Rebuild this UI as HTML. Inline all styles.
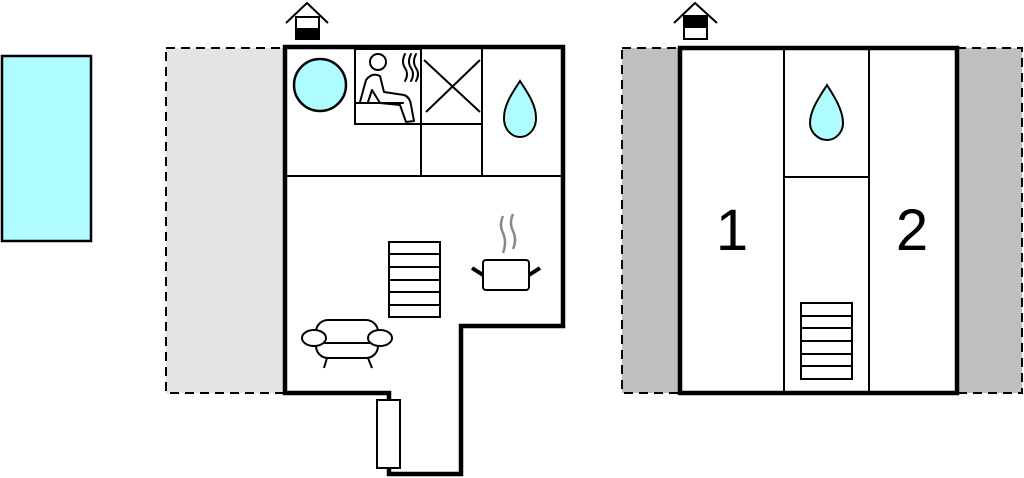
<!DOCTYPE html>
<html><head><style>html,body{margin:0;padding:0;background:#fff;}svg{display:block;}</style></head>
<body>
<svg width="1024" height="478" viewBox="0 0 1024 478" xmlns="http://www.w3.org/2000/svg">
<rect x="2" y="56" width="89" height="185" fill="#aefcff" stroke="#000" stroke-width="2.5"/>
<rect x="166" y="48" width="119" height="345" fill="#e4e4e4" stroke="#000" stroke-width="2" stroke-dasharray="9,6"/>
<rect x="622" y="48" width="58" height="345" fill="#bfbfbf" stroke="#000" stroke-width="2" stroke-dasharray="9,6"/>
<rect x="957" y="48" width="65" height="345" fill="#bfbfbf" stroke="#000" stroke-width="2" stroke-dasharray="9,6"/>

<path d="M285 47 H563 V326 H461 V474 H389 V393 H285 Z" fill="#fff" stroke="#000" stroke-width="4.5"/>
<g stroke="#000" stroke-width="2" fill="none">
<line x1="287" y1="176" x2="561" y2="176"/>
<line x1="421" y1="49" x2="421" y2="176"/>
<line x1="482" y1="49" x2="482" y2="176"/>
<rect x="355" y="49" width="66" height="75"/>
<line x1="421" y1="124" x2="482" y2="124"/>
<line x1="424" y1="60" x2="480" y2="112"/>
<line x1="426" y1="112" x2="480" y2="60"/>
</g>
<circle cx="320" cy="85" r="26" fill="#aefcff" stroke="#000" stroke-width="2.5"/>
<g stroke="#000" stroke-width="2" fill="none" stroke-linecap="round" stroke-linejoin="round">
<circle cx="378" cy="62" r="8"/>
<path d="M360 102 L366 80 Q372 72 380 76 L384 92 L404 95 Q410 97 411 105 L414 121 L406 122 L400 105 L380 103 L372 90 L368 102"/>
<line x1="355" y1="103" x2="403" y2="103"/>
<path d="M405 54 q-4 8 0 14 q4 6 0 13"/>
<path d="M411 54 q-4 8 0 14 q4 6 0 13"/>
<path d="M416 54 q-4 8 0 14 q4 6 0 13"/>
</g>
<path d="M520 81 C513 92 504 104 504 118 C504 130 512 137 520 137 C528 137 536 130 536 118 C536 104 527 92 520 81 Z" fill="#aefcff" stroke="#000" stroke-width="2"/>
<g stroke="#000" stroke-width="2" fill="#fff">
<rect x="389" y="242" width="51" height="75"/>
<line x1="389" y1="254" x2="440" y2="254"/><line x1="389" y1="267" x2="440" y2="267"/>
<line x1="389" y1="280" x2="440" y2="280"/><line x1="389" y1="292" x2="440" y2="292"/>
<line x1="389" y1="305" x2="440" y2="305"/>
</g>
<rect x="483" y="260" width="46" height="30" rx="3" fill="#fff" stroke="#000" stroke-width="2"/>
<g stroke="#000" stroke-width="4"><line x1="472" y1="268" x2="483" y2="275"/><line x1="540" y1="268" x2="529" y2="275"/></g>
<g stroke="#888" stroke-width="2.5" fill="none"><path d="M503 216 q-4 9 0 17 q4 9 0 20"/><path d="M513 214 q-4 9 0 17 q4 9 0 18"/></g>
<g stroke="#000" stroke-width="2" fill="#fff">
<rect x="316" y="320" width="62" height="38" rx="12"/>
<ellipse cx="314" cy="338" rx="12" ry="8"/>
<ellipse cx="380" cy="338" rx="12" ry="8"/>
<line x1="324" y1="343" x2="370" y2="343"/>
<line x1="327" y1="358" x2="324" y2="368"/><line x1="368" y1="358" x2="372" y2="368"/>
</g>
<rect x="377" y="400" width="23" height="68" fill="#fff" stroke="#000" stroke-width="2"/>
<g stroke="#000" stroke-width="2" fill="none"><path d="M286 23 L307 3 L328 23"/></g>
<rect x="296" y="17" width="23" height="22" fill="#fff" stroke="#000" stroke-width="2"/>
<rect x="296" y="28" width="23" height="11" fill="#000"/>

<rect x="680" y="48" width="277" height="345" fill="#fff" stroke="#000" stroke-width="4.5"/>
<g stroke="#000" stroke-width="2">
<line x1="784" y1="50" x2="784" y2="391"/>
<line x1="869" y1="50" x2="869" y2="391"/>
<line x1="784" y1="177" x2="869" y2="177"/>
</g>
<path d="M827 85 C820 96 810 110 810 123 C810 132 818 140 827 140 C836 140 843 132 843 123 C843 110 834 96 827 85 Z" fill="#aefcff" stroke="#000" stroke-width="2"/>
<g stroke="#000" stroke-width="2" fill="#fff">
<rect x="801" y="303" width="51" height="76"/>
<line x1="801" y1="316" x2="852" y2="316"/><line x1="801" y1="328" x2="852" y2="328"/>
<line x1="801" y1="341" x2="852" y2="341"/><line x1="801" y1="354" x2="852" y2="354"/>
<line x1="801" y1="366" x2="852" y2="366"/>
</g>
<text x="732" y="250" font-family="Liberation Sans, sans-serif" font-size="58" text-anchor="middle">1</text>
<text x="912" y="250" font-family="Liberation Sans, sans-serif" font-size="58" text-anchor="middle">2</text>
<g stroke="#000" stroke-width="2" fill="none"><path d="M674 23 L695 3 L717 23"/></g>
<rect x="684" y="16" width="23" height="23" fill="#fff" stroke="#000" stroke-width="2"/>
<rect x="684" y="16" width="23" height="12" fill="#000"/>
</svg>
</body></html>
